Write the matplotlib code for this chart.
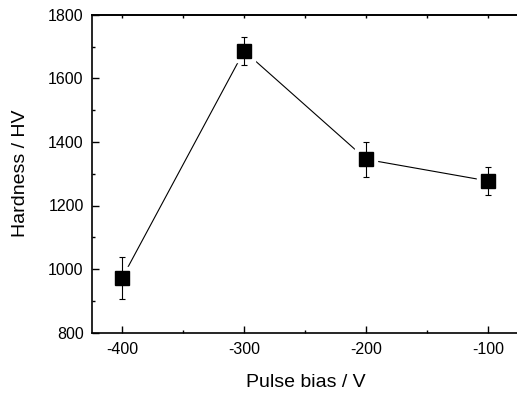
import matplotlib
matplotlib.use("Agg")
import matplotlib.pyplot as plt
from matplotlib.ticker import MultipleLocator

plt.rcParams["font.family"] = ["Liberation Sans", "DejaVu Sans"]
plt.rcParams["axes.unicode_minus"] = False

bias = [-400, -300, -200, -100]
hardness = [971, 1686, 1345, 1277]
hardness_err = [66, 43, 55, 44]

fig = plt.figure(figsize=(5.17, 3.96), dpi=100)
ax = fig.add_axes([92 / 517, (396 - 332.7) / 396, (519 - 92) / 517, 318 / 396])

# connecting line, with a white halo around each square so it stops short
ax.plot(bias, hardness, color="black", lw=0.8, zorder=1)
ax.plot(bias, hardness, ls="none", marker="s", ms=16, mfc="white", mec="white", zorder=2)
ax.errorbar(bias, hardness, yerr=hardness_err, fmt="none", ecolor="black",
            elinewidth=0.8, capsize=2, capthick=0.8, zorder=3)
ax.plot(bias, hardness, ls="none", marker="s", ms=10, mfc="black", mec="black", zorder=4)

ax.set_xlim(-424.5, -75)
ax.set_ylim(800, 1800)
ax.xaxis.set_major_locator(MultipleLocator(100))
ax.xaxis.set_minor_locator(MultipleLocator(50))
ax.yaxis.set_major_locator(MultipleLocator(200))
ax.yaxis.set_minor_locator(MultipleLocator(100))

ax.tick_params(which="both", direction="in", top=False, right=False, labelsize=11.5, width=1)
ax.tick_params(which="major", length=4.8, pad=6)
ax.tick_params(axis="x", which="major", pad=7)
ax.tick_params(which="minor", length=2.5)

# small ticks along the top edge
top = ax.secondary_xaxis("top")
top.xaxis.set_major_locator(MultipleLocator(50))
top.tick_params(direction="in", length=2.5, width=1, labeltop=False)
top.spines["top"].set_linewidth(1.2)

for side in ["left", "bottom", "top"]:
    ax.spines[side].set_linewidth(1.2)
ax.spines["right"].set_visible(False)

ax.set_xlabel("Pulse bias / V", fontsize=14, labelpad=12)
ax.set_ylabel("Hardness / HV", fontsize=14, labelpad=14)

fig.savefig("out.png", dpi=100)
